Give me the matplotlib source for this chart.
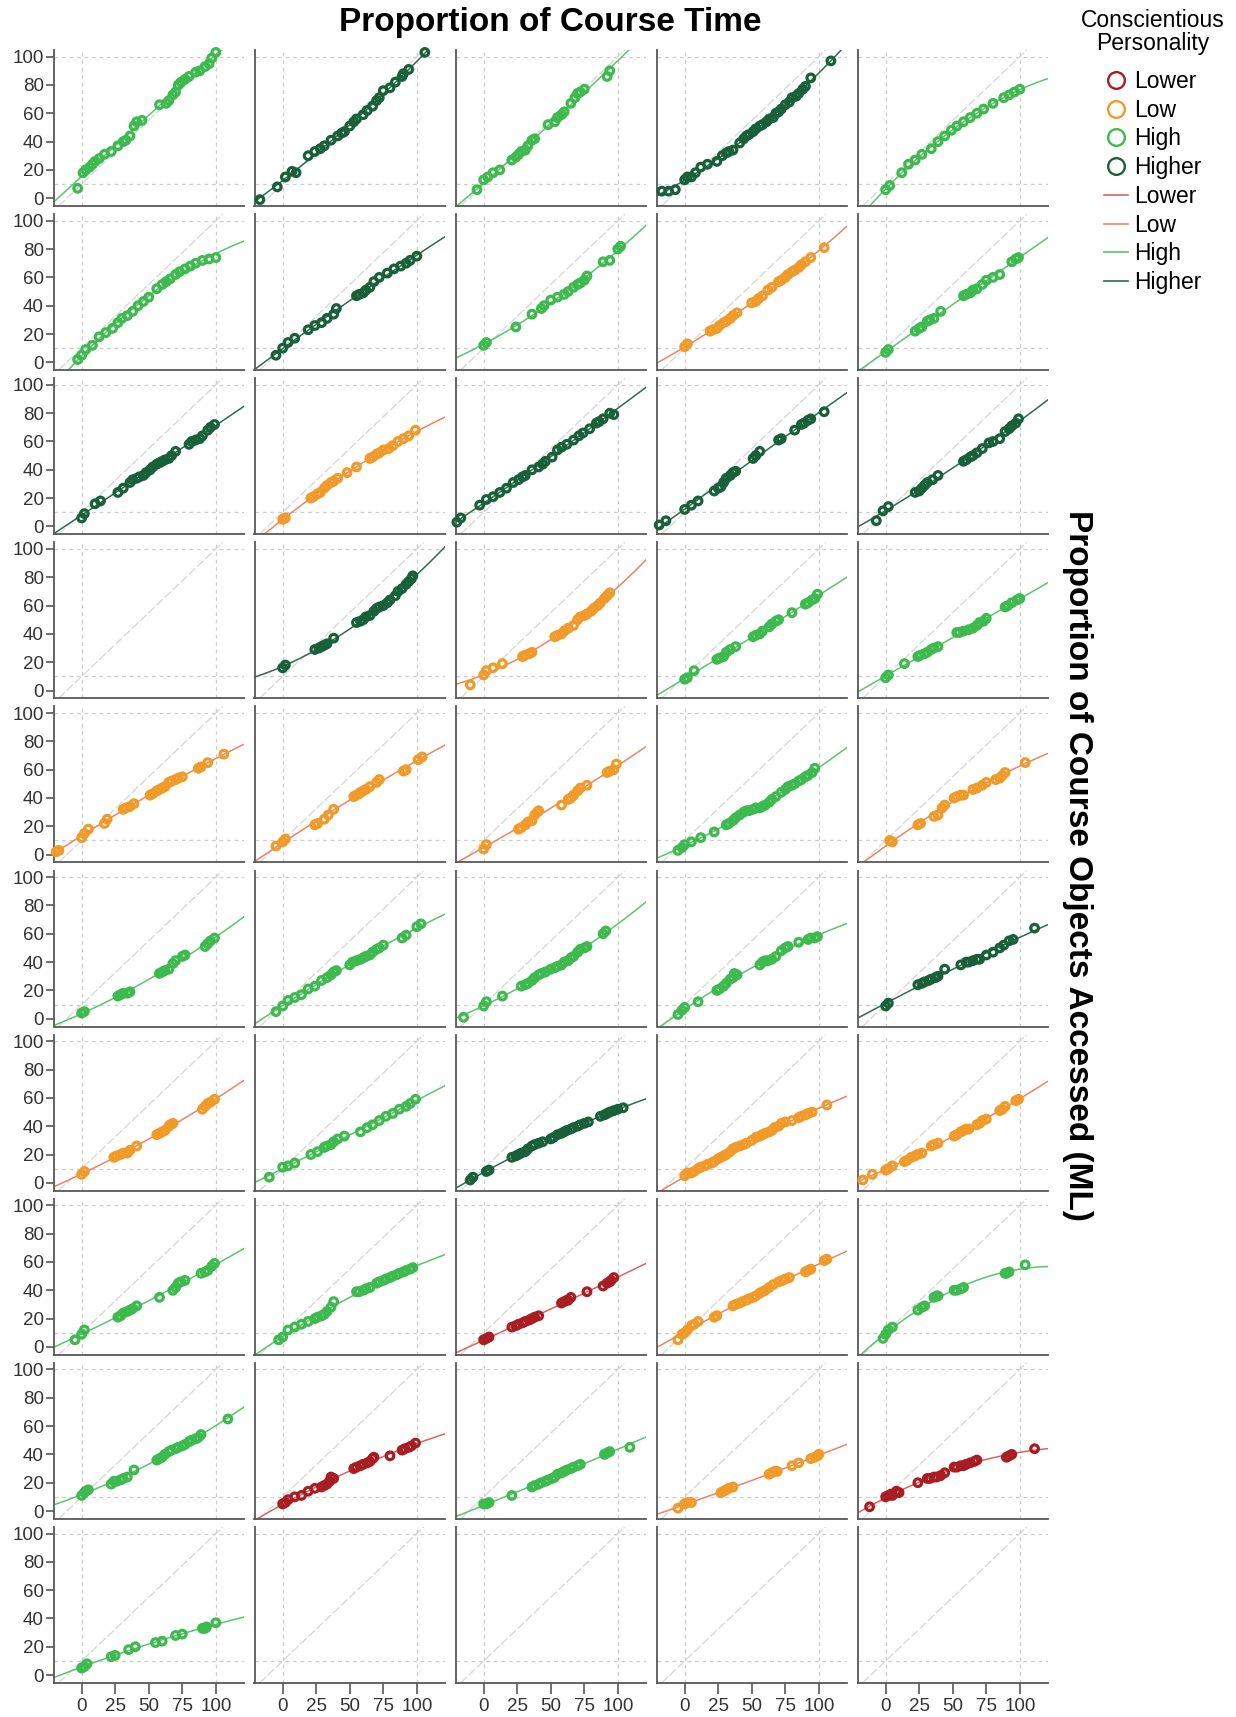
import numpy as np
import matplotlib
matplotlib.use('Agg')
import matplotlib.pyplot as plt
from matplotlib.lines import Line2D

plt.rcParams['font.family'] = ['Liberation Sans', 'DejaVu Sans']

## groups and colours
groups = ['Lower', 'Low', 'High', 'Higher']
point_colors = {'Lower': '#a81c22', 'Low': '#f29a28', 'High': '#3dba4d', 'Higher': '#17603a'}
line_colors = {'Lower': '#d9665f', 'Low': '#ec8466', 'High': '#5cc46c', 'Higher': '#2f6b50'}

## panel data (x = course time %, y = objects accessed %)
r1c1_g = 'High'
r1c1_x = [-3, 1, 3, 6, 8, 10, 13, 17, 22, 27, 31, 33, 36, 39, 41, 45, 58, 63, 65, 68, 70, 72, 74, 77, 80, 85, 88, 92, 95, 97, 100]
r1c1_y = [7, 18, 20, 22, 24, 26, 28, 31, 33, 37, 40, 41, 44, 51, 54, 55, 66, 67, 69, 73, 75, 80, 82, 84, 86, 89, 90, 93, 95, 99, 103]
r1c2_g = 'Higher'
r1c2_x = [-17, -4, 2, 7, 10, 19, 24, 28, 31, 36, 41, 44, 46, 50, 53, 55, 60, 63, 67, 70, 72, 75, 80, 84, 89, 90, 94, 106]
r1c2_y = [-1, 8, 15, 19, 18, 30, 33, 35, 37, 41, 44, 46, 47, 51, 54, 56, 59, 62, 65, 69, 71, 76, 78, 82, 86, 88, 91, 103]
r1c3_g = 'High'
r1c3_x = [-5, 0, 3, 7, 12, 21, 24, 26, 28, 31, 33, 36, 38, 48, 53, 55, 58, 60, 65, 68, 70, 72, 75, 92, 94]
r1c3_y = [6, 13, 15, 18, 20, 27, 29, 31, 33, 34, 37, 41, 42, 52, 54, 57, 59, 61, 67, 71, 74, 75, 77, 86, 90]
r1c4_g = 'Higher'
r1c4_x = [-17, -12, -7, 0, 2, 5, 8, 12, 17, 24, 28, 31, 33, 36, 41, 44, 46, 48, 51, 53, 56, 58, 61, 63, 66, 68, 70, 72, 75, 78, 80, 83, 85, 88, 90, 94, 109]
r1c4_y = [5, 5, 6, 13, 15, 15, 18, 22, 24, 26, 30, 32, 33, 34, 39, 42, 44, 45, 47, 49, 51, 52, 54, 56, 57, 60, 61, 63, 66, 68, 71, 72, 74, 77, 79, 85, 97]
r1c5_g = 'High'
r1c5_x = [0, 3, 12, 17, 22, 27, 34, 39, 44, 49, 53, 58, 63, 68, 73, 80, 88, 92, 96, 100]
r1c5_y = [6, 9, 18, 24, 27, 31, 35, 40, 44, 48, 51, 54, 57, 60, 63, 67, 71, 73, 75, 77]

r2c1_g = 'High'
r2c1_x = [-3, 0, 3, 8, 13, 18, 23, 27, 30, 34, 38, 42, 46, 50, 56, 60, 63, 66, 70, 73, 77, 81, 85, 90, 95, 100]
r2c1_y = [2, 5, 9, 12, 18, 21, 24, 28, 31, 33, 36, 40, 43, 46, 52, 55, 57, 59, 62, 64, 66, 68, 70, 72, 73, 74]
r2c2_g = 'Higher'
r2c2_x = [-5, 0, 4, 9, 19, 24, 29, 33, 38, 40, 55, 57, 60, 62, 65, 68, 72, 78, 83, 88, 92, 95, 100]
r2c2_y = [5, 10, 14, 17, 23, 26, 28, 31, 34, 38, 47, 48, 49, 51, 53, 57, 60, 63, 66, 68, 70, 72, 75]
r2c3_g = 'High'
r2c3_x = [0, 2, 24, 36, 43, 45, 50, 55, 60, 63, 67, 70, 72, 75, 77, 89, 94, 100, 102]
r2c3_y = [12, 14, 25, 34, 38, 40, 44, 46, 48, 50, 53, 55, 56, 58, 61, 71, 72, 80, 82]
r2c4_g = 'Low'
r2c4_x = [0, 2, 19, 21, 24, 26, 29, 31, 34, 36, 39, 50, 53, 55, 58, 62, 65, 70, 72, 75, 77, 80, 82, 85, 87, 90, 94, 104]
r2c4_y = [11, 13, 22, 23, 24, 26, 28, 29, 31, 33, 35, 42, 43, 45, 47, 51, 53, 57, 58, 60, 62, 64, 65, 67, 69, 71, 74, 81]
r2c5_g = 'High'
r2c5_x = [0, 2, 22, 25, 27, 31, 33, 36, 41, 58, 60, 63, 65, 68, 72, 75, 80, 85, 94, 97, 99]
r2c5_y = [7, 9, 22, 24, 25, 29, 30, 31, 36, 47, 48, 49, 51, 52, 55, 58, 60, 62, 71, 73, 74]

r3c1_g = 'Higher'
r3c1_x = [0, 2, 10, 14, 27, 31, 36, 38, 41, 43, 46, 48, 51, 53, 56, 58, 60, 62, 65, 67, 70, 80, 82, 85, 88, 90, 94, 96, 99]
r3c1_y = [6, 9, 16, 18, 24, 27, 31, 33, 34, 35, 36, 38, 40, 42, 44, 45, 46, 47, 48, 50, 53, 58, 60, 61, 62, 64, 68, 70, 72]
r3c2_g = 'Low'
r3c2_x = [0, 2, 21, 23, 26, 28, 31, 33, 36, 38, 41, 48, 55, 65, 67, 70, 72, 75, 79, 82, 86, 90, 94, 99]
r3c2_y = [5, 6, 20, 21, 23, 24, 27, 29, 31, 32, 34, 38, 42, 48, 49, 51, 52, 54, 55, 57, 60, 62, 64, 68]
r3c3_g = 'Higher'
r3c3_x = [-20, -17, -3, 2, 7, 12, 17, 22, 26, 29, 31, 36, 41, 44, 46, 51, 55, 58, 62, 67, 71, 74, 79, 84, 86, 89, 94, 97]
r3c3_y = [3, 6, 15, 19, 21, 24, 27, 31, 33, 35, 36, 40, 42, 44, 46, 49, 54, 56, 58, 61, 64, 66, 69, 73, 74, 76, 80, 79]
r3c4_g = 'Higher'
r3c4_x = [-19, -14, 0, 5, 10, 22, 25, 27, 29, 31, 34, 36, 38, 51, 53, 56, 70, 72, 82, 87, 89, 92, 94, 104]
r3c4_y = [1, 4, 12, 15, 18, 25, 27, 28, 31, 34, 36, 38, 39, 48, 50, 53, 61, 62, 68, 72, 73, 75, 76, 81]
r3c5_g = 'Higher'
r3c5_x = [-7, -2, 2, 22, 25, 27, 29, 31, 35, 39, 58, 60, 63, 65, 68, 72, 77, 80, 85, 89, 92, 94, 97, 99]
r3c5_y = [4, 11, 14, 24, 25, 27, 29, 31, 33, 36, 46, 47, 49, 50, 52, 55, 59, 60, 62, 67, 69, 71, 73, 76]

r4c2_g = 'Higher'
r4c2_x = [0, 2, 24, 27, 29, 31, 33, 38, 55, 58, 60, 62, 65, 68, 70, 72, 75, 78, 80, 84, 86, 89, 92, 94, 96, 97]
r4c2_y = [16, 18, 29, 30, 31, 32, 33, 37, 48, 49, 50, 52, 53, 56, 58, 59, 60, 62, 64, 67, 70, 72, 75, 77, 79, 81]
r4c3_g = 'Low'
r4c3_x = [-10, 0, 2, 7, 14, 29, 31, 34, 36, 53, 55, 58, 60, 63, 67, 70, 72, 75, 77, 80, 82, 85, 87, 90, 92, 94]
r4c3_y = [4, 11, 14, 16, 19, 24, 25, 26, 27, 38, 39, 40, 42, 44, 46, 50, 52, 53, 54, 56, 58, 60, 62, 65, 67, 69]
r4c4_g = 'High'
r4c4_x = [0, 2, 7, 24, 26, 29, 31, 34, 38, 51, 53, 56, 58, 63, 65, 68, 70, 80, 90, 92, 95, 97, 99]
r4c4_y = [8, 9, 14, 22, 23, 24, 27, 29, 31, 38, 39, 40, 42, 45, 47, 49, 50, 55, 61, 62, 64, 65, 68]
r4c5_g = 'High'
r4c5_x = [0, 2, 14, 24, 26, 29, 31, 34, 36, 39, 53, 55, 58, 62, 65, 68, 70, 73, 75, 89, 91, 94, 98, 100]
r4c5_y = [9, 11, 19, 24, 25, 26, 27, 29, 30, 31, 41, 41, 42, 43, 44, 46, 48, 49, 51, 59, 60, 62, 64, 65]

r5c1_g = 'Low'
r5c1_x = [-19, -17, 0, 2, 5, 17, 19, 31, 33, 36, 39, 51, 53, 56, 58, 60, 62, 65, 67, 70, 72, 75, 87, 89, 94, 106]
r5c1_y = [2, 3, 12, 15, 18, 22, 25, 32, 33, 34, 36, 42, 43, 45, 46, 47, 48, 51, 52, 53, 54, 55, 61, 62, 65, 71]
r5c2_g = 'Low'
r5c2_x = [-5, 0, 2, 24, 26, 31, 34, 38, 53, 55, 57, 58, 60, 62, 65, 70, 72, 90, 92, 101, 104]
r5c2_y = [6, 9, 11, 21, 22, 25, 28, 32, 41, 42, 43, 44, 45, 46, 48, 51, 53, 59, 60, 67, 69]
r5c3_g = 'Low'
r5c3_x = [0, 2, 26, 28, 31, 33, 36, 38, 40, 41, 58, 63, 65, 67, 70, 72, 77, 92, 94, 97, 99]
r5c3_y = [4, 7, 18, 19, 21, 23, 24, 28, 30, 31, 35, 39, 40, 42, 45, 47, 49, 58, 59, 60, 64]
r5c4_g = 'High'
r5c4_x = [-5, -2, 0, 5, 12, 22, 31, 33, 36, 38, 41, 44, 46, 48, 51, 53, 56, 58, 60, 63, 65, 68, 72, 75, 77, 80, 82, 85, 87, 90, 92, 95, 97]
r5c4_y = [3, 5, 7, 9, 12, 16, 21, 22, 24, 26, 28, 30, 31, 31, 32, 33, 33, 34, 35, 37, 39, 41, 44, 46, 48, 49, 50, 52, 53, 55, 56, 58, 61]
r5c5_g = 'Low'
r5c5_x = [3, 5, 24, 26, 36, 39, 42, 44, 51, 53, 56, 58, 65, 68, 72, 75, 82, 85, 87, 89, 104]
r5c5_y = [10, 9, 21, 22, 27, 28, 33, 35, 40, 41, 42, 42, 46, 47, 49, 51, 53, 54, 56, 58, 65]

r6c1_g = 'High'
r6c1_x = [0, 2, 27, 29, 31, 34, 36, 58, 60, 62, 65, 68, 70, 75, 77, 92, 94, 96, 99]
r6c1_y = [4, 5, 16, 17, 18, 18, 19, 32, 33, 34, 35, 39, 41, 44, 45, 51, 53, 55, 57]
r6c2_g = 'High'
r6c2_x = [-5, 0, 4, 9, 14, 19, 24, 29, 33, 36, 38, 40, 50, 52, 55, 58, 60, 62, 65, 67, 70, 72, 75, 89, 92, 100, 103]
r6c2_y = [5, 9, 13, 15, 17, 21, 23, 27, 29, 31, 33, 34, 38, 40, 41, 42, 43, 44, 45, 47, 49, 50, 52, 57, 59, 65, 67]
r6c3_g = 'High'
r6c3_x = [-15, 0, 2, 14, 28, 31, 33, 36, 38, 41, 43, 46, 50, 53, 55, 58, 60, 63, 65, 67, 70, 72, 75, 77, 89, 91]
r6c3_y = [1, 9, 12, 16, 23, 24, 25, 27, 29, 31, 32, 33, 35, 36, 37, 38, 40, 41, 43, 44, 47, 49, 50, 51, 60, 62]
r6c4_g = 'High'
r6c4_x = [-5, -2, 0, 10, 24, 26, 29, 31, 34, 36, 37, 39, 56, 58, 60, 62, 65, 68, 72, 75, 77, 85, 92, 94, 97, 99]
r6c4_y = [3, 6, 8, 12, 20, 21, 23, 25, 28, 29, 32, 31, 38, 40, 41, 41, 42, 44, 48, 50, 51, 54, 56, 57, 57, 58]
r6c5_g = 'Higher'
r6c5_x = [0, 2, 24, 27, 29, 32, 34, 37, 39, 44, 56, 60, 62, 65, 68, 70, 75, 80, 85, 88, 92, 95, 111]
r6c5_y = [9, 11, 24, 25, 26, 27, 28, 29, 30, 35, 38, 40, 40, 41, 42, 42, 45, 47, 50, 52, 55, 56, 64]

r7c1_g = 'Low'
r7c1_x = [0, 2, 24, 26, 29, 31, 34, 36, 41, 56, 58, 60, 62, 65, 66, 68, 90, 92, 94, 96, 99]
r7c1_y = [6, 8, 18, 19, 20, 21, 21, 23, 26, 34, 35, 36, 37, 40, 41, 42, 52, 54, 56, 57, 59]
r7c2_g = 'High'
r7c2_x = [-10, 0, 4, 9, 21, 26, 31, 33, 36, 38, 41, 46, 58, 63, 67, 72, 77, 82, 87, 92, 95, 99]
r7c2_y = [4, 11, 12, 14, 20, 22, 25, 26, 27, 29, 31, 33, 36, 39, 41, 44, 47, 49, 52, 54, 56, 59]
r7c3_g = 'Higher'
r7c3_x = [-10, -8, 2, 4, 21, 24, 26, 28, 31, 33, 36, 38, 41, 44, 50, 52, 55, 58, 60, 62, 65, 67, 70, 72, 75, 78, 87, 90, 92, 94, 97, 100, 104]
r7c3_y = [2, 4, 8, 9, 18, 19, 20, 21, 22, 24, 26, 27, 28, 29, 31, 32, 34, 35, 36, 37, 38, 39, 40, 41, 42, 43, 47, 48, 49, 50, 51, 52, 53]
r7c4_g = 'Low'
r7c4_x = [0, 2, 5, 7, 10, 12, 15, 17, 20, 22, 25, 27, 29, 31, 34, 36, 38, 41, 44, 46, 50, 53, 56, 58, 60, 63, 65, 67, 70, 72, 75, 80, 85, 87, 90, 92, 95, 106]
r7c4_y = [5, 7, 7, 8, 10, 11, 12, 13, 14, 15, 17, 18, 19, 20, 22, 24, 25, 26, 27, 28, 30, 32, 33, 34, 35, 36, 37, 39, 40, 42, 43, 44, 46, 47, 48, 49, 50, 55]
r7c5_g = 'Low'
r7c5_x = [-17, -10, 0, 2, 5, 14, 16, 19, 22, 24, 27, 34, 36, 39, 51, 53, 56, 58, 60, 62, 68, 70, 72, 75, 85, 87, 89, 97, 99]
r7c5_y = [2, 6, 9, 10, 12, 15, 16, 18, 19, 20, 21, 26, 27, 28, 33, 34, 36, 37, 38, 38, 41, 42, 44, 45, 51, 52, 54, 58, 59]

r8c1_g = 'High'
r8c1_x = [-5, 0, 2, 27, 29, 31, 34, 36, 38, 41, 58, 68, 70, 72, 74, 77, 89, 92, 94, 97, 99]
r8c1_y = [5, 9, 12, 21, 22, 24, 25, 26, 27, 29, 35, 40, 42, 45, 46, 47, 52, 53, 54, 57, 59]
r8c2_g = 'High'
r8c2_x = [-3, 0, 4, 9, 14, 19, 24, 26, 29, 31, 33, 36, 38, 55, 57, 60, 62, 65, 70, 72, 75, 77, 80, 82, 85, 87, 90, 92, 95, 97]
r8c2_y = [5, 7, 12, 14, 16, 18, 20, 21, 22, 23, 25, 28, 32, 39, 39, 40, 41, 42, 45, 46, 47, 48, 49, 50, 51, 52, 53, 54, 55, 56]
r8c3_g = 'Lower'
r8c3_x = [0, 2, 4, 21, 24, 26, 29, 31, 34, 36, 38, 41, 58, 60, 62, 63, 65, 77, 89, 92, 94, 95, 97]
r8c3_y = [5, 6, 7, 14, 15, 16, 17, 18, 19, 20, 21, 22, 31, 32, 33, 33, 35, 39, 43, 45, 46, 47, 49]
r8c4_g = 'Low'
r8c4_x = [-5, -2, 0, 2, 5, 7, 10, 22, 24, 36, 38, 41, 43, 46, 48, 51, 53, 56, 58, 60, 63, 66, 70, 73, 75, 78, 90, 92, 94, 104, 106]
r8c4_y = [5, 9, 10, 12, 15, 16, 18, 21, 22, 29, 30, 31, 32, 33, 34, 35, 36, 38, 39, 40, 42, 44, 46, 47, 48, 49, 53, 54, 55, 61, 62]
r8c5_g = 'High'
r8c5_x = [-2, 0, 2, 5, 24, 27, 29, 36, 38, 39, 51, 53, 56, 58, 89, 90, 92, 104]
r8c5_y = [6, 9, 12, 14, 26, 28, 29, 35, 36, 36, 40, 40, 41, 42, 52, 52, 53, 58]

r9c1_g = 'High'
r9c1_x = [0, 2, 3, 5, 22, 24, 26, 29, 31, 34, 39, 56, 58, 60, 62, 65, 67, 70, 72, 75, 77, 80, 82, 85, 87, 89, 109]
r9c1_y = [11, 13, 14, 15, 19, 21, 21, 22, 23, 24, 29, 36, 37, 38, 40, 42, 43, 44, 45, 46, 47, 49, 50, 51, 52, 54, 65]
r9c2_g = 'Lower'
r9c2_x = [0, 2, 4, 9, 14, 19, 24, 29, 31, 33, 35, 36, 38, 53, 55, 58, 60, 63, 65, 67, 68, 80, 89, 91, 94, 96, 99]
r9c2_y = [5, 6, 8, 10, 11, 14, 16, 17, 18, 19, 21, 24, 23, 30, 31, 32, 33, 34, 35, 37, 38, 39, 43, 44, 45, 46, 48]
r9c3_g = 'High'
r9c3_x = [0, 2, 4, 21, 36, 38, 41, 43, 46, 48, 51, 53, 55, 58, 60, 62, 65, 67, 70, 72, 90, 92, 94, 109]
r9c3_y = [5, 5, 6, 11, 17, 18, 19, 20, 21, 22, 23, 24, 26, 27, 28, 29, 30, 31, 32, 33, 40, 41, 42, 45]
r9c4_g = 'Low'
r9c4_x = [-5, 0, 2, 5, 27, 29, 31, 33, 36, 63, 65, 67, 69, 80, 85, 94, 97, 99, 100]
r9c4_y = [2, 5, 6, 6, 13, 14, 15, 16, 17, 26, 27, 28, 28, 32, 34, 37, 38, 39, 40]
r9c5_g = 'Lower'
r9c5_x = [-12, 0, 2, 4, 5, 8, 10, 24, 31, 33, 36, 38, 41, 44, 51, 53, 56, 58, 60, 63, 66, 68, 90, 92, 94, 111]
r9c5_y = [3, 10, 11, 12, 11, 14, 13, 20, 23, 23, 24, 24, 25, 27, 31, 31, 32, 32, 33, 34, 35, 36, 38, 39, 40, 44]

r10c1_g = 'High'
r10c1_x = [0, 2, 4, 22, 25, 35, 40, 55, 60, 70, 75, 90, 92, 93, 100]
r10c1_y = [5, 6, 8, 13, 14, 18, 20, 23, 24, 28, 29, 33, 33, 34, 37]

## grid of panels: None = panel without data
panels = [
    [(r1c1_g, r1c1_x, r1c1_y), (r1c2_g, r1c2_x, r1c2_y), (r1c3_g, r1c3_x, r1c3_y), (r1c4_g, r1c4_x, r1c4_y), (r1c5_g, r1c5_x, r1c5_y)],
    [(r2c1_g, r2c1_x, r2c1_y), (r2c2_g, r2c2_x, r2c2_y), (r2c3_g, r2c3_x, r2c3_y), (r2c4_g, r2c4_x, r2c4_y), (r2c5_g, r2c5_x, r2c5_y)],
    [(r3c1_g, r3c1_x, r3c1_y), (r3c2_g, r3c2_x, r3c2_y), (r3c3_g, r3c3_x, r3c3_y), (r3c4_g, r3c4_x, r3c4_y), (r3c5_g, r3c5_x, r3c5_y)],
    [None, (r4c2_g, r4c2_x, r4c2_y), (r4c3_g, r4c3_x, r4c3_y), (r4c4_g, r4c4_x, r4c4_y), (r4c5_g, r4c5_x, r4c5_y)],
    [(r5c1_g, r5c1_x, r5c1_y), (r5c2_g, r5c2_x, r5c2_y), (r5c3_g, r5c3_x, r5c3_y), (r5c4_g, r5c4_x, r5c4_y), (r5c5_g, r5c5_x, r5c5_y)],
    [(r6c1_g, r6c1_x, r6c1_y), (r6c2_g, r6c2_x, r6c2_y), (r6c3_g, r6c3_x, r6c3_y), (r6c4_g, r6c4_x, r6c4_y), (r6c5_g, r6c5_x, r6c5_y)],
    [(r7c1_g, r7c1_x, r7c1_y), (r7c2_g, r7c2_x, r7c2_y), (r7c3_g, r7c3_x, r7c3_y), (r7c4_g, r7c4_x, r7c4_y), (r7c5_g, r7c5_x, r7c5_y)],
    [(r8c1_g, r8c1_x, r8c1_y), (r8c2_g, r8c2_x, r8c2_y), (r8c3_g, r8c3_x, r8c3_y), (r8c4_g, r8c4_x, r8c4_y), (r8c5_g, r8c5_x, r8c5_y)],
    [(r9c1_g, r9c1_x, r9c1_y), (r9c2_g, r9c2_x, r9c2_y), (r9c3_g, r9c3_x, r9c3_y), (r9c4_g, r9c4_x, r9c4_y), (r9c5_g, r9c5_x, r9c5_y)],
    [(r10c1_g, r10c1_x, r10c1_y), None, None, None, None],
]

x_ticks = [0, 25, 50, 75, 100]
y_ticks = [0, 20, 40, 60, 80, 100]

## figure layout (pixels)
W, H = 1236, 1717
fig = plt.figure(figsize=(W / 100, H / 100), dpi=100)
pan_w, pan_h = 190.5, 156
col_step, row_step = 201, 164.1
left0, top0 = 53.5, 50

grid_kw = dict(color='#cdcdcd', lw=0.9, ls=(0, (3, 3)), zorder=1)
spine_col = '#585858'

for r, row in enumerate(panels):
    for c, pan in enumerate(row):
        ax = fig.add_axes([(left0 + col_step * c) / W,
                           1 - (top0 + row_step * r + pan_h) / H,
                           pan_w / W, pan_h / H])
        ax.set_xlim(-21, 121)
        ax.set_ylim(-5.5, 104.7)
        for s in ['top', 'right']:
            ax.spines[s].set_visible(False)
        for s in ['left', 'bottom']:
            ax.spines[s].set_color(spine_col)
            ax.spines[s].set_linewidth(1.3)

        ## reference lines
        ax.axvline(0, **grid_kw)
        ax.axvline(100, **grid_kw)
        ax.axhline(10, **grid_kw)
        ax.axhline(100, **grid_kw)
        ax.axline((0, 10), (100, 100), color='#d6d6d6', lw=0.9, ls=(0, (7, 2)), zorder=1)

        if pan is not None:
            g, xs, ys = pan
            xs = np.array(xs, dtype=float)
            ys = np.array(ys, dtype=float)
            coef = np.polyfit(xs, ys, 2)
            xf = np.linspace(-21, 121, 200)
            ax.plot(xf, np.polyval(coef, xf), color=line_colors[g], lw=1.1, zorder=2)
            ax.scatter(xs, ys, s=30, facecolors='none', edgecolors=point_colors[g],
                       linewidths=2.3, zorder=3, clip_on=False)

        if c == 0:
            ax.set_yticks(y_ticks)
            ax.tick_params(axis='y', length=6, width=1.2, color=spine_col,
                           labelsize=13.5, labelcolor='#333333', pad=1)
        else:
            ax.set_yticks([])
        if r == len(panels) - 1:
            ax.set_xticks(x_ticks)
            ax.tick_params(axis='x', length=8, width=1.2, color=spine_col,
                           labelsize=13.5, labelcolor='#333333', pad=3)
        else:
            ax.set_xticks([])

## titles
fig.text(550 / W, 1 - 23 / H, 'Proportion of Course Time', ha='center', va='center',
         fontsize=24, fontweight='bold')
fig.text(1078 / W, 1 - 865 / H, 'Proportion of Course Objects Accessed (ML)', ha='center',
         va='center', rotation=270, fontsize=24, fontweight='bold')

## legend
fig.text(1153 / W, 1 - 32 / H, 'Conscientious\nPersonality', ha='center', va='center',
         multialignment='center', fontsize=16.5, linespacing=0.98)
handles = [Line2D([], [], ls='none', marker='o', ms=12, mfc='none', mew=1.7,
                  mec=point_colors[g]) for g in groups]
handles += [Line2D([], [], color=line_colors[g], lw=1.2) for g in groups]
labels = groups + groups
fig.legend(handles, labels, loc='upper left',
           bbox_to_anchor=(1104 / W, 1 - 70 / H), frameon=False, fontsize=16.5,
           handlelength=1.05, handletextpad=0.25,
           labelspacing=0.25, borderpad=0, borderaxespad=0)

fig.savefig('out.png', dpi=100)
